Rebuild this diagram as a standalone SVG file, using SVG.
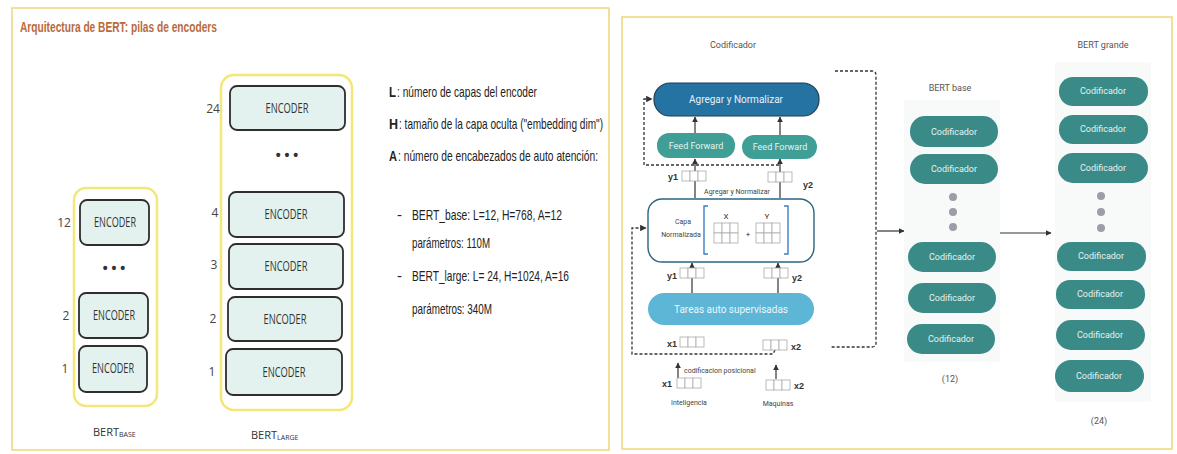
<svg xmlns="http://www.w3.org/2000/svg" width="1177" height="454" viewBox="0 0 1177 454">
<defs>
<style>
.panel{fill:#fff;stroke:#f0d47a;stroke-width:1.5}
.cont{fill:none;stroke:#f3e67a;stroke-width:2.5}
.enc{fill:#e3f2ef;stroke:#2e2e2e;stroke-width:1.8}
.enct{font-family:'Open Sans',sans-serif;font-size:14px;fill:#333;text-anchor:middle}
.num{font-family:'Open Sans',sans-serif;font-size:12px;fill:#444;text-anchor:middle}
.dots{font-family:'Liberation Sans',sans-serif;font-size:14px;fill:#333;text-anchor:middle;font-weight:bold}
.desc{font-family:'Liberation Sans',sans-serif;font-size:15px;fill:#222}
.codt{font-family:Roboto,sans-serif;font-size:9px;fill:#e6f2f1;text-anchor:middle}
.cod{fill:#3a8b87}
.lbl{font-family:Roboto,sans-serif;font-size:9px;fill:#555;text-anchor:middle}
.sm{font-family:Roboto,sans-serif;font-size:7px;fill:#444}
.vl{font-family:'Liberation Sans',sans-serif;font-size:9px;fill:#333;font-weight:bold}
.cell{fill:#fff;stroke:#aaa;stroke-width:0.8}
.dash{fill:none;stroke:#333;stroke-width:1.3;stroke-dasharray:3 2}
.solid{fill:none;stroke:#333;stroke-width:1.2}
.dot{fill:#9b9ea6}
</style>
<marker id="ah" viewBox="0 0 10 10" refX="9" refY="5" markerWidth="5" markerHeight="5" orient="auto"><path d="M0,0 L10,5 L0,10 z" fill="#333"/></marker>
<g id="vec"><rect class="cell" x="0" y="0" width="8" height="10"/><rect class="cell" x="8" y="0" width="8" height="10"/><rect class="cell" x="16" y="0" width="8" height="10"/></g>
</defs>
<rect width="1177" height="454" fill="#fff"/>

<!-- Left panel -->
<g id="left-panel">
<rect class="panel" x="12" y="8" width="597" height="442"/>
<text x="20" y="32" font-family="'Liberation Sans',sans-serif" font-size="14" font-weight="bold" fill="#b86a3c" textLength="197" lengthAdjust="spacingAndGlyphs">Arquitectura de BERT: pilas de encoders</text>
</g>

<g id="bert-base-stack">
<rect class="cont" x="74" y="188" width="83" height="218" rx="12"/>
<g id="base-enc12"><rect class="enc" x="80" y="200" width="69" height="45" rx="7"/><text class="enct" x="115" y="227" textLength="42" lengthAdjust="spacingAndGlyphs">ENCODER</text><text class="num" x="64" y="227">12</text></g>
<text class="dots" x="114" y="273">• • •</text>
<g id="base-enc2"><rect class="enc" x="79" y="293" width="69" height="45" rx="7"/><text class="enct" x="114" y="320" textLength="42" lengthAdjust="spacingAndGlyphs">ENCODER</text><text class="num" x="66" y="320">2</text></g>
<g id="base-enc1"><rect class="enc" x="79" y="346" width="68" height="46" rx="7"/><text class="enct" x="113" y="373" textLength="42" lengthAdjust="spacingAndGlyphs">ENCODER</text><text class="num" x="65" y="373">1</text></g>
<text x="93" y="436" font-family="'Open Sans',sans-serif" font-size="11" fill="#333">BERT<tspan font-size="7" dy="1">BASE</tspan></text>
</g>

<g id="bert-large-stack">
<rect class="cont" x="221" y="75" width="131" height="335" rx="13"/>
<g id="large-enc24"><rect class="enc" x="230" y="86" width="115" height="44" rx="7"/><text class="enct" x="287" y="113" textLength="43" lengthAdjust="spacingAndGlyphs">ENCODER</text><text class="num" x="213" y="113">24</text></g>
<text class="dots" x="287" y="160">• • •</text>
<g id="large-enc4"><rect class="enc" x="229" y="192" width="115" height="45" rx="7"/><text class="enct" x="286" y="219" textLength="43" lengthAdjust="spacingAndGlyphs">ENCODER</text><text class="num" x="215" y="217">4</text></g>
<g id="large-enc3"><rect class="enc" x="229" y="244" width="114" height="45" rx="7"/><text class="enct" x="286" y="271" textLength="43" lengthAdjust="spacingAndGlyphs">ENCODER</text><text class="num" x="214" y="269">3</text></g>
<g id="large-enc2"><rect class="enc" x="228" y="297" width="114" height="44" rx="7"/><text class="enct" x="285" y="324" textLength="43" lengthAdjust="spacingAndGlyphs">ENCODER</text><text class="num" x="213" y="323">2</text></g>
<g id="large-enc1"><rect class="enc" x="226" y="349" width="116" height="46" rx="7"/><text class="enct" x="284" y="377" textLength="43" lengthAdjust="spacingAndGlyphs">ENCODER</text><text class="num" x="212" y="376">1</text></g>
<text x="251" y="439" font-family="'Open Sans',sans-serif" font-size="11" fill="#333">BERT<tspan font-size="7" dy="1">LARGE</tspan></text>
</g>

<g id="description">
<text class="desc" x="389" y="97" font-weight="bold" textLength="7" lengthAdjust="spacingAndGlyphs">L</text>
<text class="desc" x="397" y="97" textLength="140" lengthAdjust="spacingAndGlyphs">: número de capas del encoder</text>
<text class="desc" x="389" y="129" font-weight="bold" textLength="9" lengthAdjust="spacingAndGlyphs">H</text>
<text class="desc" x="399" y="129" textLength="204" lengthAdjust="spacingAndGlyphs">: tamaño de la capa oculta ("embedding dim")</text>
<text class="desc" x="389" y="161" font-weight="bold" textLength="8" lengthAdjust="spacingAndGlyphs">A</text>
<text class="desc" x="398" y="161" textLength="200" lengthAdjust="spacingAndGlyphs">: número de encabezados de auto atención:</text>
<text class="desc" x="397" y="220">-</text>
<text class="desc" x="412" y="220" textLength="150" lengthAdjust="spacingAndGlyphs">BERT_base: L=12, H=768, A=12</text>
<text class="desc" x="412" y="248" textLength="78" lengthAdjust="spacingAndGlyphs">parámetros: 110M</text>
<text class="desc" x="397" y="281">-</text>
<text class="desc" x="412" y="281" textLength="157" lengthAdjust="spacingAndGlyphs">BERT_large: L= 24, H=1024, A=16</text>
<text class="desc" x="412" y="314" textLength="80" lengthAdjust="spacingAndGlyphs">parámetros: 340M</text>
</g>

<!-- Right panel -->
<g id="right-panel">
<rect class="panel" x="622" y="17" width="550" height="432"/>
<text class="lbl" x="733" y="48">Codificador</text>
</g>

<g id="connectors">
<line class="solid" x1="695" y1="133" x2="695" y2="117" marker-end="url(#ah)"/>
<line class="solid" x1="780" y1="135" x2="780" y2="117" marker-end="url(#ah)"/>
<line class="solid" x1="695" y1="198" x2="695" y2="159" marker-end="url(#ah)"/>
<line class="solid" x1="780" y1="198" x2="780" y2="159" marker-end="url(#ah)"/>
<line class="solid" x1="692" y1="293" x2="692" y2="263" marker-end="url(#ah)"/>
<line class="solid" x1="778" y1="293" x2="778" y2="263" marker-end="url(#ah)"/>
<line class="solid" x1="678" y1="379" x2="678" y2="363" marker-end="url(#ah)"/>
<line class="solid" x1="776" y1="379" x2="776" y2="365" marker-end="url(#ah)"/>
<path class="dash" d="M780,161 L780,165 L644,165 L644,99 L652,99" marker-end="url(#ah)"/>
<path class="dash" d="M775,350 L773,354 L632,354 L632,228 L646,228" marker-end="url(#ah)"/>
<path class="dash" d="M835,71 L872,71 Q876,71 876,75 L876,343 Q876,347 872,347 L830,347"/>
<path class="solid" d="M877,231 L904,231" marker-end="url(#ah)"/>
<path class="solid" d="M1000,233 L1051,233" marker-end="url(#ah)"/>
</g>

<g id="agregar-top">
<rect x="654" y="83" width="165" height="33" rx="16" fill="#2473a3" stroke="#1d3f55" stroke-width="1.2"/>
<text x="736" y="103" font-family="Roboto,sans-serif" font-size="10" fill="#e8f1f7" text-anchor="middle">Agregar y Normalizar</text>
</g>
<g id="ff-left"><rect x="657" y="133" width="78" height="25" rx="12" fill="#3f9f96"/><text class="codt" x="696" y="149">Feed Forward</text></g>
<g id="ff-right"><rect x="742" y="135" width="75" height="24" rx="12" fill="#3f9f96"/><text class="codt" x="780" y="150">Feed Forward</text></g>

<g id="y-vectors-top">
<text class="vl" x="668" y="180">y1</text><use href="#vec" x="682" y="171"/>
<use href="#vec" x="768" y="172"/><text class="vl" x="803" y="188">y2</text>
<text class="sm" x="737" y="194" text-anchor="middle" font-size="7.5">Agregar y Normalizar</text>
</g>

<g id="capa-normalizada">
<rect x="648" y="199" width="166" height="63" rx="14" fill="#fff" stroke="#2b6584" stroke-width="1.4"/>
<text class="sm" x="683" y="224" text-anchor="middle">Capa</text>
<text class="sm" x="681" y="237" text-anchor="middle">Normalizada</text>
<path d="M708,206 L704,206 L704,254 L708,254" fill="none" stroke="#3a7fc0" stroke-width="1.4"/>
<path d="M784,206 L788,206 L788,254 L784,254" fill="none" stroke="#3a7fc0" stroke-width="1.4"/>
<text x="726" y="219" font-family="Roboto,sans-serif" font-size="8" fill="#333" text-anchor="middle">X</text>
<text x="767" y="219" font-family="Roboto,sans-serif" font-size="8" fill="#333" text-anchor="middle">Y</text>
<use href="#vec" x="714" y="223"/><use href="#vec" x="714" y="233"/>
<text x="748" y="237" font-family="Roboto,sans-serif" font-size="8" fill="#333" text-anchor="middle">+</text>
<use href="#vec" x="756" y="223"/><use href="#vec" x="756" y="233"/>
</g>

<g id="y-vectors-mid">
<text class="vl" x="667" y="279">y1</text><use href="#vec" x="680" y="268"/>
<use href="#vec" x="764" y="268"/><text class="vl" x="792" y="281">y2</text>
</g>

<g id="tareas">
<rect x="648" y="293" width="166" height="32" rx="16" fill="#5db6d6"/>
<text x="731" y="313" font-family="Roboto,sans-serif" font-size="10" fill="#eaf6fb" text-anchor="middle">Tareas auto supervisadas</text>
</g>

<g id="x-vectors">
<text class="vl" x="667" y="347">x1</text><use href="#vec" x="680" y="337"/>
<use href="#vec" x="763" y="340"/><text class="vl" x="791" y="350">x2</text>
<text class="sm" x="684" y="373">codificacion posicional</text>
<text class="vl" x="662" y="387">x1</text><use href="#vec" x="677" y="378"/>
<use href="#vec" x="766" y="380"/><text class="vl" x="794" y="389">x2</text>
<text class="sm" x="689" y="405" text-anchor="middle" font-size="6">Inteligencia</text>
<text class="sm" x="778" y="406" text-anchor="middle" font-size="6">Maquinas</text>
</g>

<g id="bert-base-right">
<rect x="904" y="100" width="96" height="262" fill="#f8f9f9"/>
<text class="lbl" x="950" y="91">BERT base</text>
<g id="rb1"><rect class="cod" x="910" y="116" width="88" height="31" rx="15"/><text class="codt" x="954" y="135">Codificador</text></g>
<g id="rb2"><rect class="cod" x="910" y="154" width="88" height="30" rx="15"/><text class="codt" x="954" y="172">Codificador</text></g>
<circle class="dot" cx="953" cy="197" r="4"/><circle class="dot" cx="953" cy="212" r="4"/><circle class="dot" cx="953" cy="227" r="4"/>
<g id="rb3"><rect class="cod" x="908" y="242" width="88" height="30" rx="15"/><text class="codt" x="952" y="260">Codificador</text></g>
<g id="rb4"><rect class="cod" x="908" y="283" width="88" height="30" rx="15"/><text class="codt" x="952" y="301">Codificador</text></g>
<g id="rb5"><rect class="cod" x="907" y="324" width="88" height="30" rx="15"/><text class="codt" x="951" y="342">Codificador</text></g>
<text class="lbl" x="950" y="382">(12)</text>
</g>

<g id="bert-grande-right">
<rect x="1055" y="62" width="96" height="340" fill="#f8f9f9"/>
<text class="lbl" x="1103" y="48">BERT grande</text>
<g id="rg1"><rect class="cod" x="1059" y="77" width="89" height="29" rx="14"/><text class="codt" x="1103" y="94">Codificador</text></g>
<g id="rg2"><rect class="cod" x="1059" y="115" width="89" height="29" rx="14"/><text class="codt" x="1103" y="132">Codificador</text></g>
<g id="rg3"><rect class="cod" x="1058" y="153" width="90" height="30" rx="15"/><text class="codt" x="1103" y="171">Codificador</text></g>
<circle class="dot" cx="1101" cy="196" r="4"/><circle class="dot" cx="1101" cy="212" r="4"/><circle class="dot" cx="1101" cy="228" r="4"/>
<g id="rg4"><rect class="cod" x="1057" y="242" width="89" height="29" rx="14"/><text class="codt" x="1101" y="259">Codificador</text></g>
<g id="rg5"><rect class="cod" x="1056" y="280" width="89" height="29" rx="14"/><text class="codt" x="1100" y="297">Codificador</text></g>
<g id="rg6"><rect class="cod" x="1056" y="320" width="89" height="30" rx="15"/><text class="codt" x="1100" y="338">Codificador</text></g>
<g id="rg7"><rect class="cod" x="1055" y="360" width="89" height="32" rx="16"/><text class="codt" x="1099" y="379">Codificador</text></g>
<text class="lbl" x="1099" y="424">(24)</text>
</g>
</svg>
